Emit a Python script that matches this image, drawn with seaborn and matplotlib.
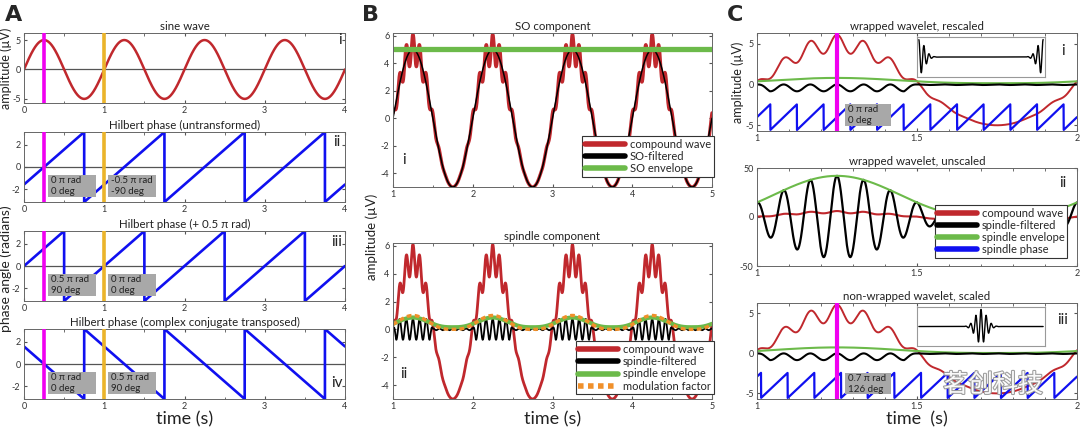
import numpy as np
import pandas as pd
import seaborn as sns
import matplotlib.pyplot as plt
import matplotlib.patheffects as pe
from matplotlib.lines import Line2D
from matplotlib.patches import Rectangle
from matplotlib.ticker import MultipleLocator, FuncFormatter

sns.set_style("ticks")
plt.rcParams['font.family'] = ['Lato', 'DejaVu Sans']

# ---- valores ----
# A: onda seno y fase de Hilbert
so_freq = 1.0          # Hz
so_amp = 5.0           # µV
marker_times = [0.25, 1.0]
phase_ii_t = [0, 0.75, 0.75, 1.75, 1.75, 2.75, 2.75, 3.75, 3.75, 4]
phase_ii_y = [-1.571, 3.142, -3.142, 3.142, -3.142, 3.142, -3.142, 3.142, -3.142, -1.571]
phase_iii_t = [0, 0.5, 0.5, 1.5, 1.5, 2.5, 2.5, 3.5, 3.5, 4]
phase_iii_y = [0, 3.142, -3.142, 3.142, -3.142, 3.142, -3.142, 3.142, -3.142, 0]
phase_iv_t = [0, 0.75, 0.75, 1.75, 1.75, 2.75, 2.75, 3.75, 3.75, 4]
phase_iv_y = [1.571, -3.142, 3.142, -3.142, 3.142, -3.142, 3.142, -3.142, 3.142, 1.571]
box_ii = ["0 π rad\n0 deg", "-0.5 π rad\n-90 deg"]
box_iii = ["0.5 π rad\n90 deg", "0 π rad\n0 deg"]
box_iv = ["0 π rad\n0 deg", "0.5 π rad\n90 deg"]

# B: componentes SO y huso
spin_freq = 12.0       # Hz
spin_amp = 1.1         # µV en la onda compuesta
mod_power = 1.5
spin_filt_amp = 0.75
env_floor, env_gain = 0.15, 0.7
burst_gain, burst_floor = 4.0, 0.08

# C: ondicula
c_marker = 1.25
ci_phase = 0.0         # π rad
ciii_phase = 0.7       # π rad
box_ci = "0 π rad\n0 deg"
box_ciii = "0.7 π rad\n126 deg"
cii_env_peak = 42.0
wav_freq, wav_sigma = 12.0, 0.09

red = '#C0282D'
blue = '#1010F0'
green = '#6CBA4A'
magenta = '#F000F0'
gold = '#EBB42A'
orange = '#F0902A'
gray_box = '#A8A8A8'
title_fs = 8.3
leg_fs = 8

W, H = 1080, 430
fig = plt.figure(figsize=(10.8, 4.3), dpi=100)


def add_ax(left, top, right, bottom):
    return fig.add_axes([left / W, 1 - bottom / H, (right - left) / W, (bottom - top) / H])


def style(ax, xlim, xticks, xminor, ylim, yticks):
    ax.set_xlim(xlim)
    ax.set_ylim(ylim)
    ax.set_xticks(xticks)
    ax.set_yticks(yticks)
    ax.xaxis.set_minor_locator(MultipleLocator(xminor))
    ax.xaxis.set_major_formatter(FuncFormatter(lambda v, p: f"{v:g}"))
    ax.yaxis.set_major_formatter(FuncFormatter(lambda v, p: f"{v:g}"))
    ax.tick_params(which='both', direction='in', top=True, right=True,
                   labelsize=6.5, color='#555', labelcolor='#333', length=2.5, pad=2.5)
    ax.tick_params(which='minor', length=1.8)
    for s in ax.spines.values():
        s.set_color('#666')
        s.set_linewidth(0.7)
    ax.set_facecolor('white')


def line(ax, x, y, **kw):
    sns.lineplot(x=x, y=y, ax=ax, estimator=None, sort=False, legend=False, **kw)


def gbox(ax, x0, x1, y0, y1, txt, fs=7):
    ax.add_patch(Rectangle((x0, y0), x1 - x0, y1 - y0, facecolor=gray_box, edgecolor='none', zorder=5))
    ax.text(x0 + 0.01 * (ax.get_xlim()[1] - ax.get_xlim()[0]), y1 - 0.05 * (y1 - y0), txt,
            fontsize=fs, color='#222', va='top', ha='left', zorder=6, linespacing=1.3)


def roman(ax, x, y, s):
    ax.text(x, y, s, transform=ax.transAxes, fontsize=11, color='#222', ha='center', va='center')


def legend(ax, handles, labels, anchor):
    lg = ax.legend(handles, labels, loc='lower right', bbox_to_anchor=anchor, borderaxespad=0,
                   fontsize=leg_fs, fancybox=False, edgecolor='#333', framealpha=1,
                   handlelength=3.6, labelspacing=0.1, handletextpad=0.4, borderpad=0.25)
    lg.get_frame().set_linewidth(0.8)


# ---------- Panel A ----------
t_a = np.linspace(0, 4, 2001)
sine = so_amp * np.sin(2 * np.pi * so_freq * t_a)

axA1 = add_ax(24, 33, 345, 103)
axA1.axhline(0, color='#555', lw=0.9)
line(axA1, t_a, sine, color=red, linewidth=1.8)
for tm, c in zip(marker_times, [magenta, gold]):
    axA1.axvline(tm, color=c, lw=2.6, zorder=4)
style(axA1, (0, 4), [0, 1, 2, 3, 4], 0.5, (-5.7, 6.2), [-5, 0, 5])
axA1.set_title("sine wave", fontsize=title_fs, pad=2, color='#222')
roman(axA1, 0.985, 0.9, "i")

phase_sets = [(phase_ii_t, phase_ii_y, box_ii, "Hilbert phase (untransformed)", "ii", 132, 202, 0.86),
              (phase_iii_t, phase_iii_y, box_iii, "Hilbert phase (+ 0.5 π rad)", "iii", 231, 301, 0.84),
              (phase_iv_t, phase_iv_y, box_iv, "Hilbert phase (complex conjugate transposed)", "iv", 329, 399, 0.23)]
axA = []
for pt, py, boxes, title, rn, top, bot, ry in phase_sets:
    ax = add_ax(24, top, 345, bot)
    ax.axhline(0, color='#555', lw=0.9)
    line(ax, np.array(pt), np.array(py), color=blue, linewidth=1.9)
    for tm, c in zip(marker_times, [magenta, gold]):
        ax.axvline(tm, color=c, lw=2.6, zorder=4)
    style(ax, (0, 4), [0, 1, 2, 3, 4], 0.5, (-np.pi, np.pi), [-2, 0, 2])
    gbox(ax, 0.30, 0.90, -2.69, -0.70, boxes[0])
    gbox(ax, 1.05, 1.65, -2.69, -0.70, boxes[1])
    ax.set_title(title, fontsize=title_fs, pad=2, color='#222')
    roman(ax, 0.975, ry, rn)
    axA.append(ax)
axA[-1].set_xlabel("time (s)", fontsize=13, labelpad=0, color='#222')

fig.text(6 / W, 1 - 68 / H, "amplitude (µV)", rotation=90, ha='center', va='center', fontsize=9, color='#222')
fig.text(6 / W, 1 - 269 / H, "phase angle (radians)", rotation=90, ha='center', va='center', fontsize=10, color='#222')

# ---------- Panel B ----------
t_b = np.linspace(1, 5, 4001)
so_norm_b = np.sin(2 * np.pi * so_freq * (t_b - 1))
so_b = so_amp * so_norm_b
mod_b = ((1 + so_norm_b) / 2) ** mod_power
burst_b = np.clip(burst_gain * so_norm_b, burst_floor, 1)
carrier_b = np.cos(2 * np.pi * spin_freq * (t_b - c_marker))
compound_b = so_b + spin_amp * mod_b * carrier_b
spin_filt_b = spin_filt_amp * burst_b * carrier_b
spin_env_b = env_floor + env_gain * mod_b

axB1 = add_ax(393, 33, 712, 187)
line(axB1, t_b, compound_b, color=red, linewidth=2.4)
line(axB1, t_b, so_b, color='black', linewidth=1.1)
line(axB1, t_b, np.full_like(t_b, so_amp), color=green, linewidth=3.8)
style(axB1, (1, 5), [1, 2, 3, 4, 5], 0.5, (-5.0, 6.2), [-4, -2, 0, 2, 4, 6])
axB1.set_title("SO component", fontsize=title_fs, pad=2, color='#222')
axB1.text(1.14, -3.0, "i", fontsize=11, color='#222', ha='center', va='center')
hB1 = [Line2D([], [], color=red, lw=4), Line2D([], [], color='black', lw=4), Line2D([], [], color=green, lw=4)]
legend(axB1, hB1, ["compound wave", "SO-filtered", "SO envelope"], (1.005, 0.065))

axB2 = add_ax(393, 243, 712, 399)
line(axB2, t_b, compound_b, color=red, linewidth=2.0)
line(axB2, t_b, spin_filt_b, color='black', linewidth=1.3)
line(axB2, t_b, spin_env_b, color=green, linewidth=3.0)
line(axB2, t_b, mod_b, color=orange, linewidth=2.4, linestyle=(0, (1.4, 1.0)))
style(axB2, (1, 5), [1, 2, 3, 4, 5], 0.5, (-5.0, 6.2), [-4, -2, 0, 2, 4, 6])
axB2.set_title("spindle component", fontsize=title_fs, pad=2, color='#222')
axB2.text(1.14, -3.2, "ii", fontsize=11, color='#222', ha='center', va='center')
hB2 = hB1[:2] + [Line2D([], [], color=green, lw=4), Line2D([], [], color=orange, lw=4, linestyle=(0, (1, 0.8)))]
legend(axB2, hB2, ["compound wave", "spindle-filtered", "spindle envelope", "modulation factor"], (1.005, 0.03))
axB2.set_xlabel("time (s)", fontsize=13, labelpad=0, color='#222')
fig.text(372 / W, 1 - 237 / H, "amplitude (µV)", rotation=90, ha='center', va='center', fontsize=9.5, color='#222')

# ---------- Panel C ----------
t_c = np.linspace(1, 2, 2001)
so_norm_c = np.sin(2 * np.pi * so_freq * (t_c - 1))
mod_c = ((1 + so_norm_c) / 2) ** mod_power
burst_c = np.clip(burst_gain * so_norm_c, burst_floor, 1)
arg_c = 2 * np.pi * spin_freq * (t_c - c_marker)
compound_c = so_amp * so_norm_c + spin_amp * mod_c * np.cos(arg_c)
rect_spin_c = -0.42 * burst_c * (1 - np.cos(arg_c))

wav_x = np.linspace(-1, 1, 1201)
wavelet = np.cos(2 * np.pi * wav_freq * wav_x) * np.exp(-wav_x ** 2 / (2 * wav_sigma ** 2))
wrapped = np.roll(wavelet, len(wavelet) // 2)


def panel_c(top, bot, phase_off, env, boxtxt, wav, title, rn):
    ax = add_ax(757, top, 1077, bot)
    phase = np.angle(np.exp(1j * (arg_c + phase_off * np.pi)))
    line(ax, t_c, compound_c, color=red, linewidth=1.4)
    line(ax, t_c, env, color=green, linewidth=1.5)
    line(ax, t_c, rect_spin_c, color='black', linewidth=1.5)
    line(ax, t_c, phase / 2 - 4, color=blue, linewidth=1.6)
    ax.axvline(c_marker, color=magenta, lw=3, zorder=4)
    style(ax, (1, 2), [1, 1.5, 2], 0.1, (-5.7, 6.3), [-5, 0, 5])
    gbox(ax, 1.275, 1.42, -5.1, -2.4, boxtxt, fs=7)
    ins = ax.inset_axes([0.5, 0.55, 0.4, 0.41])
    ins.plot(wav_x, wav, color='black', lw=1.0)
    ins.set_xlim(-1.03, 1.03)
    ins.set_ylim(-1.15, 1.15)
    ins.set_xticks([])
    ins.set_yticks([])
    for s in ins.spines.values():
        s.set_color('#999')
        s.set_linewidth(0.8)
    ax.set_title(title, fontsize=title_fs, pad=2, color='#222')
    roman(ax, 0.955, 0.82, rn)
    return ax


axC1 = panel_c(33, 131, ci_phase, env_floor + 0.65 * mod_c, box_ci, wrapped,
               "wrapped wavelet, rescaled", "i")
axC1.set_ylabel("amplitude (µV)", fontsize=9, labelpad=1, color='#222')

axC2 = add_ax(757, 168, 1077, 266)
env_c2 = cii_env_peak * mod_c
line(axC2, t_c, compound_c, color=red, linewidth=1.5)
line(axC2, t_c, env_c2 * np.cos(arg_c), color='black', linewidth=1.6)
line(axC2, t_c, env_c2, color=green, linewidth=1.5)
style(axC2, (1, 2), [1, 1.5, 2], 0.1, (-50, 50), [-50, 0, 50])
axC2.set_title("wrapped wavelet, unscaled", fontsize=title_fs, pad=2, color='#222')
roman(axC2, 0.955, 0.85, "ii")
hC2 = [Line2D([], [], color=red, lw=4), Line2D([], [], color='black', lw=4),
       Line2D([], [], color=green, lw=4), Line2D([], [], color=blue, lw=4)]
legend(axC2, hC2, ["compound wave", "spindle-filtered", "spindle envelope", "spindle phase"], (0.97, 0.08))

axC3 = panel_c(303, 399, ciii_phase, 0.05 + 0.7 * mod_c, box_ciii, wavelet,
               "non-wrapped wavelet, scaled", "iii")
axC3.set_xlabel("time  (s)", fontsize=13, labelpad=0, color='#222')

# letras de panel
for x, s in [(5, "A"), (362, "B"), (727, "C")]:
    fig.text(x / W, 1 - 15 / H, s, fontsize=16, fontweight='bold', ha='left', va='center',
             family=['DejaVu Sans'])

# marca de agua
fig.text(993 / W, 1 - 385 / H, "茗创科技", fontsize=18, color='white', ha='center', va='center',
         family=['Noto Sans CJK SC', 'DejaVu Sans'], alpha=0.95,
         path_effects=[pe.withStroke(linewidth=1.6, foreground='#9a9a9a')], zorder=20)

fig.savefig("out.png", dpi=100)
